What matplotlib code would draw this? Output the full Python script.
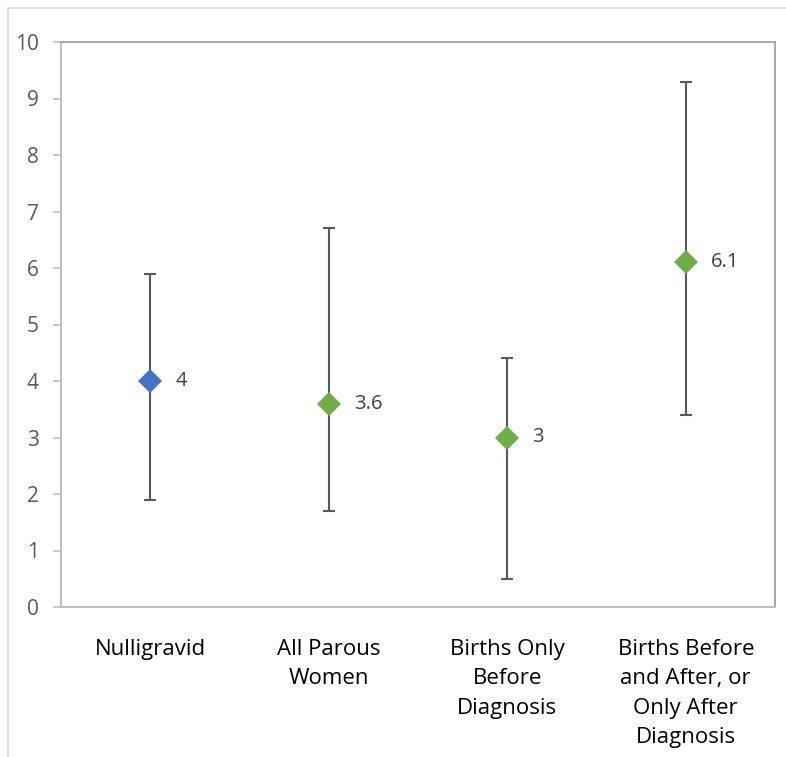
import matplotlib
matplotlib.use("Agg")
import matplotlib.pyplot as plt
from matplotlib.lines import Line2D

plt.rcParams['font.family'] = ['Open Sans', 'DejaVu Sans']

# ── Data ──────────────────────────────────────────────────────────────────────
categories = ['Nulligravid', 'All Parous\nWomen', 'Births Only\nBefore\nDiagnosis',
              'Births Before\nand After, or\nOnly After\nDiagnosis']
values = [4, 3.6, 3, 6.1]
lower = [1.9, 1.7, 0.5, 3.4]
upper = [5.9, 6.7, 4.4, 9.3]
value_labels = ['4', '3.6', '3', '6.1']
marker_colors = ['#4472C4', '#70AD47', '#70AD47', '#70AD47']

# ── Figure ────────────────────────────────────────────────────────────────────
fig = plt.figure(figsize=(7.86, 7.57), dpi=100)
ax = fig.add_axes([61 / 786, 150 / 757, 714 / 786, 565 / 757])

xs = list(range(len(categories)))
for x, v, lo, hi, c, lbl in zip(xs, values, lower, upper, marker_colors, value_labels):
    ax.errorbar([x], [v], yerr=[[v - lo], [hi - v]], fmt='none',
                ecolor='#595959', elinewidth=1.5, capsize=4, capthick=1.5, zorder=2)
    ax.plot([x], [v], 'D', color=c, markersize=12, markeredgewidth=0, zorder=3)
    ax.annotate(lbl, (x, v), xytext=(18, 0), textcoords='offset points',
                ha='left', va='center', fontsize=14.5, color='#404040')

ax.set_xlim(-0.5, len(categories) - 0.5)
ax.set_ylim(0, 10)
ax.set_yticks(range(0, 11))
ax.set_xticks(xs)
ax.set_xticklabels(categories, fontsize=16, color='black', linespacing=1.53, va='top')
ax.tick_params(axis='x', length=0, pad=23)
ax.tick_params(axis='y', length=6, width=1.2, color='#BFBFBF', labelcolor='#595959',
               labelsize=15, pad=10)

for side in ('left', 'bottom'):
    ax.spines[side].set_color('#BFBFBF')
    ax.spines[side].set_linewidth(1.4)
for side in ('top', 'right'):
    ax.spines[side].set_color('#A6A6A6')
    ax.spines[side].set_linewidth(1.4)

# ── Chart area border (cropped: only top and left visible) ───────────────────
fig.add_artist(Line2D([8 / 786, 8 / 786], [0, 1 - 8 / 757], transform=fig.transFigure,
                      color='#D9D9D9', linewidth=1.2))
fig.add_artist(Line2D([8 / 786, 1], [1 - 8 / 757, 1 - 8 / 757], transform=fig.transFigure,
                      color='#D9D9D9', linewidth=1.2))

fig.savefig('out.png', dpi=100)
